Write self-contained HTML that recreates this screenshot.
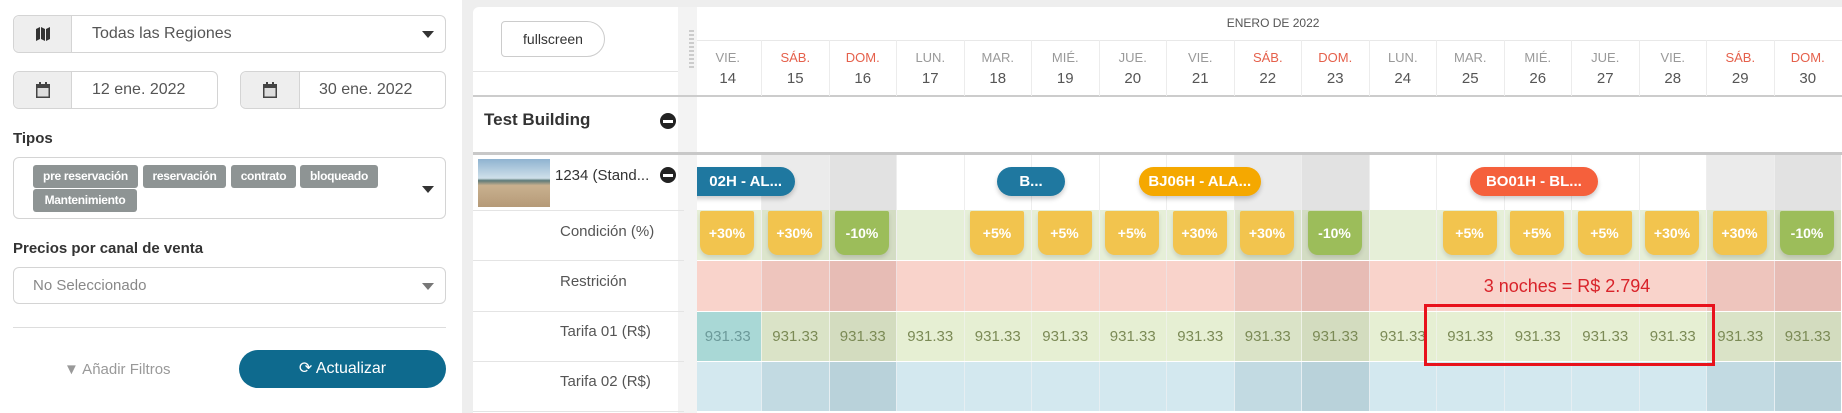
<!DOCTYPE html>
<html><head><meta charset="utf-8">
<style>
body{margin:0;width:1842px;height:413px;overflow:hidden;background:#fff;font-family:"Liberation Sans",sans-serif;position:relative}
.a{position:absolute;box-sizing:border-box}
.box{border:1px solid #d4d4d4;border-radius:6px;background:#fff}
.addon{background:#eee;border-right:1px solid #d4d4d4;border-radius:6px 0 0 6px}
.t{position:absolute;white-space:nowrap}
.tag{position:absolute;background:#8e9494;color:#fff;font-weight:bold;font-size:12px;border-radius:3px;height:23px;line-height:23px;text-align:center;letter-spacing:-0.3px}
.caret{position:absolute;width:0;height:0;border-left:6px solid transparent;border-right:6px solid transparent;border-top:7px solid #333}
.lbl{position:absolute;left:560px;font-size:15px;color:#555}
.rowline{position:absolute;left:473px;width:211px;height:1px;background:#e4e4e4}
.minus{position:absolute;width:16px;height:16px;border-radius:50%;background:#222}
.minus::after{content:"";position:absolute;left:3px;top:7px;width:10px;height:3px;background:#fff}
</style></head><body>
<div class="a box" style="left:13px;top:15px;width:433px;height:38px">
 <div class="a addon" style="left:0;top:0;width:58px;height:36px"></div>
 <svg class="a" style="left:21px;top:10px" width="16" height="16" viewBox="0 0 16 16"><path d="M1 3l4-2v12l-4 2zM6 1l4 2v12l-4-2zM11 3l4-2v12l-4 2z" fill="#333"/></svg>
 <span class="t" style="left:78px;top:9px;font-size:16px;color:#555">Todas las Regiones</span>
 <div class="caret" style="left:408px;top:15px"></div>
</div>
<div class="a box" style="left:13px;top:71px;width:205px;height:38px">
 <div class="a addon" style="left:0;top:0;width:58px;height:36px"></div>
 <svg class="a" style="left:22px;top:10px" width="14" height="16" viewBox="0 0 14 16"><rect x="0" y="2" width="14" height="14" fill="#444"/><rect x="1.5" y="6" width="11" height="8.5" fill="#ddd"/><rect x="3" y="0" width="2" height="4" fill="#444"/><rect x="9" y="0" width="2" height="4" fill="#444"/></svg>
 <span class="t" style="left:78px;top:9px;font-size:16px;color:#555">12 ene. 2022</span>
</div>
<div class="a box" style="left:240px;top:71px;width:206px;height:38px">
 <div class="a addon" style="left:0;top:0;width:59px;height:36px"></div>
 <svg class="a" style="left:22px;top:10px" width="14" height="16" viewBox="0 0 14 16"><rect x="0" y="2" width="14" height="14" fill="#444"/><rect x="1.5" y="6" width="11" height="8.5" fill="#ddd"/><rect x="3" y="0" width="2" height="4" fill="#444"/><rect x="9" y="0" width="2" height="4" fill="#444"/></svg>
 <span class="t" style="left:78px;top:9px;font-size:16px;color:#555">30 ene. 2022</span>
</div>
<span class="t" style="left:13px;top:130px;font-size:15px;font-weight:bold;color:#333">Tipos</span>
<div class="a box" style="left:13px;top:157px;width:433px;height:62px">
 <div class="caret" style="left:408px;top:28px"></div>
</div>
<div class="tag" style="left:33px;top:165px;width:105px">pre reservación</div>
<div class="tag" style="left:143px;top:165px;width:83px">reservación</div>
<div class="tag" style="left:231px;top:165px;width:65px">contrato</div>
<div class="tag" style="left:300px;top:165px;width:78px">bloqueado</div>
<div class="tag" style="left:33px;top:189px;width:104px">Mantenimiento</div>
<span class="t" style="left:13px;top:240px;font-size:15px;font-weight:bold;color:#333">Precios por canal de venta</span>
<div class="a box" style="left:13px;top:267px;width:433px;height:37px">
 <span class="t" style="left:19px;top:9px;font-size:15px;color:#888">No Seleccionado</span>
 <div class="caret" style="left:408px;top:15px;border-top-color:#777"></div>
</div>
<div class="a" style="left:13px;top:327px;width:433px;height:1px;background:#ddd"></div>
<span class="t" style="left:64px;top:361px;font-size:15px;color:#999">&#9660; Añadir Filtros</span>
<div class="a" style="left:239px;top:350px;width:207px;height:38px;background:#0e6a8e;border-radius:19px;color:#fff;font-size:16px;text-align:center;line-height:38px">&#10227; Actualizar</div>

<div class="a" style="left:462px;top:0;width:1380px;height:413px;background:#eeeeee"></div>
<div class="a" style="left:473px;top:7px;width:1369px;height:406px;background:#fff;border-radius:6px 0 0 0"></div>
<div class="a" style="left:678px;top:7px;width:19px;height:406px;background:#f3f3f3"></div>
<div class="a" style="left:689px;top:30px;width:5px;height:40px;background:repeating-linear-gradient(#ccc 0 2px,transparent 2px 4px)"></div>
<div class="a" style="left:501px;top:21px;width:104px;height:36px;border:1px solid #ccc;border-radius:4px 18px 18px 4px;font-size:14px;color:#333;text-align:center;line-height:34px">fullscreen</div>
<div class="a" style="left:473px;top:71px;width:205px;height:1px;background:#e4e4e4"></div>
<div class="a" style="left:473px;top:95px;width:1369px;height:2px;background:#ccc"></div>
<span class="t" style="left:484px;top:110px;font-size:17px;font-weight:bold;color:#333">Test Building</span>
<div class="minus" style="left:660px;top:113px"></div>
<div class="a" style="left:473px;top:152px;width:1369px;height:3px;background:#c8c8c8"></div>
<div class="a" style="left:478px;top:159px;width:72px;height:48px;background:linear-gradient(#8fb3d0 0,#cfe0ea 40%,#5d7a78 45%,#c9b08e 55%,#b59a78 100%)"></div>
<span class="t" style="left:555px;top:167px;font-size:15px;color:#333">1234 (Stand...</span>
<div class="minus" style="left:660px;top:167px"></div>
<div class="rowline" style="top:210px"></div>
<span class="lbl" style="top:223px">Condición (%)</span>
<div class="rowline" style="top:260px"></div>
<span class="lbl" style="top:273px">Restrición</span>
<div class="rowline" style="top:311px"></div>
<span class="lbl" style="top:323px">Tarifa 01 (R$)</span>
<div class="rowline" style="top:361px"></div>
<span class="lbl" style="top:373px">Tarifa 02 (R$)</span>
<div class="rowline" style="top:411px"></div>

<div class="a" id="grid" style="left:697px;top:7px;width:1145px;height:406px;overflow:hidden"></div>

<script>
const days=[14,15,16,17,18,19,20,21,22,23,24,25,26,27,28,29,30];
const dayNames=["VIE.","SÁB.","DOM.","LUN.","MAR.","MIÉ.","JUE.","VIE.","SÁB.","DOM.","LUN.","MAR.","MIÉ.","JUE.","VIE.","SÁB.","DOM."];
const condValues=[30,30,-10,null,5,5,5,30,30,-10,null,5,5,5,30,30,-10];
const tarifa01=[931.33,931.33,931.33,931.33,931.33,931.33,931.33,931.33,931.33,931.33,931.33,931.33,931.33,931.33,931.33,931.33,931.33];
const bookings=[["02H - AL...",-0.25,1.5,"#1f78a0"],["B...",4.5,5.5,"#1f78a0"],["BJ06H - ALA...",6.6,8.4,"#f5a800"],["BO01H - BL...",11.5,13.4,"#f5603c"]];
const restrictionText="3 noches = R$ 2.794";
const restrictionSpan=[11,15];

const g=document.getElementById('grid');
const X0=-3.5, CW=67.5, OY=7;
const x=i=>X0+i*CW;
const y=v=>v-OY;
function div(css,html){const d=document.createElement('div');d.className='a';d.style.cssText=css;if(html!==undefined)d.innerHTML=html;g.appendChild(d);return d;}
const mt=div(`left:${x(7.9)}px;top:${y(16)}px;font-size:12px;color:#555`,"ENERO DE 2022");


div(`left:0;top:${y(40)}px;width:1145px;height:1px;background:#e8e8e8`);
days.forEach((d,i)=>{
  const name=dayNames[i];
  const sat=name==="SÁB.", sun=name==="DOM.";
  const wk=sat||sun;
  const cx=x(i);
  const h=div(`left:${cx}px;top:${y(40)}px;width:${CW}px;height:56px;text-align:center;border-left:1px solid #ececec`,
   `<div style="margin-top:10px;font-size:13px;color:${wk?'#e5604b':'#999'}">${name}</div><div style="margin-top:5px;font-size:15px;color:#555">${d}</div>`);
  
  
  div(`left:${cx}px;top:${y(155)}px;width:${CW}px;height:55px;background:${wk?(sun?'#e2e2e2':'#ebebeb'):'#fff'};border-left:1px solid #eee`);
  div(`left:${cx}px;top:${y(210)}px;width:${CW}px;height:50px;background:${wk?(sun?'#d3dcc3':'#dce5cc'):'#e6efd8'};border-left:1px solid #f0f0f0`);
  div(`left:${cx}px;top:${y(261)}px;width:${CW}px;height:50px;background:${wk?(sun?'#e7bcb5':'#eec5bd'):'#f9d3cb'};border-left:1px solid #f0e0e0`);
  const tb=i===0?'#a9d8d6':(wk?(sun?'#d3dcbf':'#dae3c7'):'#e6efd3');
  const tc=div(`left:${cx}px;top:${y(312)}px;width:${CW}px;height:49px;background:${tb};text-align:center;line-height:49px;font-size:15px;color:${i===0?'#6c9a9a':'#7b8a55'};border-left:1px solid #eef2e6`,tarifa01[i].toFixed(2));
  
  
  div(`left:${cx}px;top:${y(362)}px;width:${CW}px;height:49px;background:${wk?(sun?'#b9d2da':'#c2dae2'):'#d3e8ef'};border-left:1px solid #e6eef2`);
  const v=condValues[i];
  if(v!==null){
    const b=div(`left:${cx+6.5}px;top:${y(211)}px;width:54px;height:44px;background:${v<0?'#9cbd5a':'#f2c44e'};border-radius:2px 2px 10px 10px;box-shadow:0 3px 4px rgba(0,0,0,.12);color:#fff;font-weight:bold;font-size:14px;text-align:center;line-height:44px`,(v>0?'+':'')+v+'%');
    
    
  }
});
div(`left:0;top:${y(260)}px;width:1145px;height:1px;background:#fff`);
div(`left:0;top:${y(311)}px;width:1145px;height:1px;background:#fff`);
div(`left:0;top:${y(361)}px;width:1145px;height:1px;background:#fff`);
bookings.forEach((b,k)=>{
  const l=x(b[1]), w=(b[2]-b[1])*CW;
  const pad=k===0?20:0;
  const p=div(`left:${l}px;top:${y(167)}px;width:${w}px;height:29px;padding-left:${pad}px;background:${b[3]};border-radius:15px;box-shadow:0 3px 5px rgba(0,0,0,.2);color:#fff;font-weight:bold;font-size:15px;text-align:center;line-height:29px;white-space:nowrap`,b[0]);
  
  
});
const rl=x(restrictionSpan[0]), rw=(restrictionSpan[1]-restrictionSpan[0])*CW;
const rt=div(`left:${rl}px;top:${y(276)}px;width:${rw-8}px;text-align:center;font-size:18px;color:#d9232a;white-space:nowrap`,restrictionText);


const hb=div(`left:${rl-12}px;top:${y(304)}px;width:${rw+21}px;height:62px;border:3px solid #e8121c`);


</script>
</body></html>
